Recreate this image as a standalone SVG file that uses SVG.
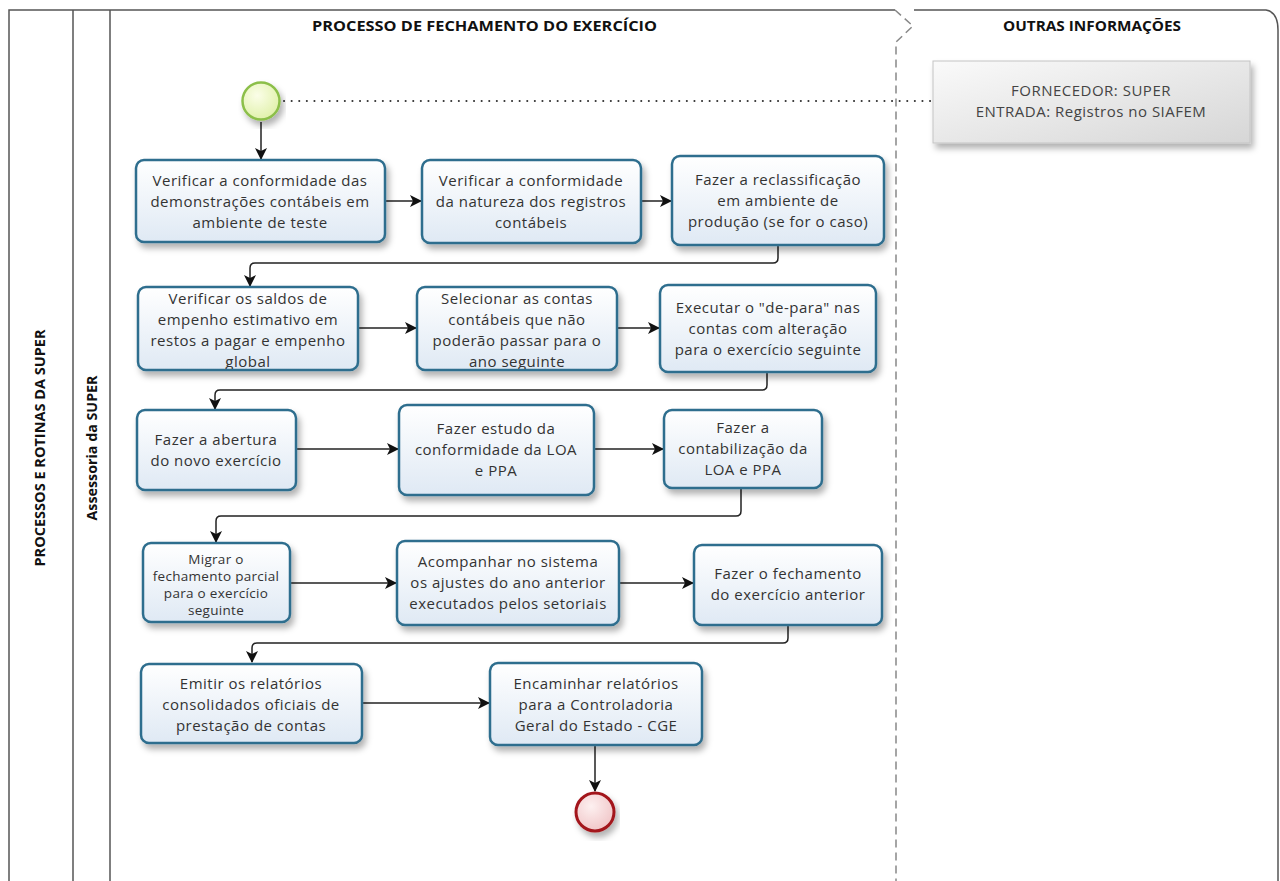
<svg xmlns="http://www.w3.org/2000/svg" width="1280" height="881" viewBox="0 0 1280 881">
<style>
.frame{fill:none;stroke:#555;stroke-width:1.5}
.hdr{font-family:"Open Sans","Liberation Sans",sans-serif;font-weight:bold;font-size:14px;fill:#111}
.task rect{fill:url(#tg);stroke:#2f6e8e;stroke-width:2.5;filter:url(#sh)}
.task text{font-family:"Open Sans","Noto Sans",sans-serif;font-size:15px;letter-spacing:0.5px;fill:#333;text-anchor:middle}
.task text.sm{font-size:13.5px;letter-spacing:0.3px}
.conn path{fill:none;stroke:#222;stroke-width:1.5;marker-end:url(#ah)}
.note text{font-family:"Open Sans","Noto Sans",sans-serif;font-size:15px;letter-spacing:0.5px;fill:#444;text-anchor:middle}
</style>
<defs>
<linearGradient id="tg" x1="0" y1="0" x2="0" y2="1"><stop offset="0" stop-color="#ffffff"/><stop offset="1" stop-color="#dfe9f4"/></linearGradient>
<radialGradient id="sg" cx="0.4" cy="0.35" r="0.7"><stop offset="0" stop-color="#fbfee8"/><stop offset="1" stop-color="#dff0a8"/></radialGradient>
<radialGradient id="eg" cx="0.4" cy="0.35" r="0.7"><stop offset="0" stop-color="#fdf0f0"/><stop offset="1" stop-color="#f0c4c6"/></radialGradient>
<linearGradient id="ng" x1="0" y1="0" x2="1" y2="1"><stop offset="0" stop-color="#fafafa"/><stop offset="1" stop-color="#d6d6d6"/></linearGradient>
<filter id="sh" x="-10%" y="-10%" width="125%" height="135%"><feDropShadow dx="3" dy="5" stdDeviation="3" flood-color="#000" flood-opacity="0.3"/></filter>
<marker id="ah" markerWidth="12" markerHeight="12" viewBox="0 0 12 12" refX="11" refY="6" orient="auto" markerUnits="userSpaceOnUse"><path d="M0,0 L12,6 L0,12 L3,6 Z" fill="#111"/></marker>
<clipPath id="c4"><rect x="139" y="288" width="218" height="81"/></clipPath>
<clipPath id="c5"><rect x="418" y="288" width="198" height="81"/></clipPath>
</defs>

<g id="frame">
<path class="frame" d="M9,881 V10 H895 M914,10 H1266 Q1278,12 1278,30 V881"/>
<line class="frame" x1="73" y1="10" x2="73" y2="881"/>
<line class="frame" x1="110" y1="10" x2="110" y2="881"/>
<path d="M895,10 L913,26 L896,42 V881" fill="none" stroke="#888" stroke-width="1.5" stroke-dasharray="8,5"/>
<text class="hdr" x="312" y="31" textLength="345" lengthAdjust="spacingAndGlyphs">PROCESSO DE FECHAMENTO DO EXERCÍCIO</text>
<text class="hdr" x="1003" y="31" textLength="178" lengthAdjust="spacingAndGlyphs">OUTRAS INFORMAÇÕES</text>
<text class="hdr" transform="translate(45,448) rotate(-90)" text-anchor="middle" textLength="237" lengthAdjust="spacingAndGlyphs">PROCESSOS E ROTINAS DA SUPER</text>
<text class="hdr" transform="translate(97,448) rotate(-90)" text-anchor="middle" textLength="145" lengthAdjust="spacingAndGlyphs">Assessoria da SUPER</text>
</g>

<g id="connectors" class="conn">
<line x1="284" y1="101" x2="933" y2="101" stroke="#333" stroke-width="2" stroke-dasharray="0.1,7.5" stroke-linecap="round"/>
<path d="M261,122 V159"/>
<path d="M385,201 H421"/>
<path d="M641,201 H671"/>
<path d="M778,246 V258 Q778,263 773,263 H255 Q250,263 250,268 V286"/>
<path d="M358,328 H416"/>
<path d="M617,328 H659"/>
<path d="M767,373 V385 Q767,390 762,390 H220 Q215,390 215,395 V409"/>
<path d="M296,449 H398"/>
<path d="M594,449 H663"/>
<path d="M741,489 V511 Q741,516 736,516 H221 Q216,516 216,521 V542"/>
<path d="M290,583 H396"/>
<path d="M619,583 H693"/>
<path d="M788,626 V638 Q788,643 783,643 H257 Q252,643 252,648 V662"/>
<path d="M362,703 H489"/>
<path d="M595,746 V791"/>
</g>

<g id="start"><circle cx="261" cy="101" r="18.5" fill="url(#sg)" stroke="#8cbf4a" stroke-width="2.5" filter="url(#sh)"/></g>
<g id="end"><circle cx="595" cy="812" r="19" fill="url(#eg)" stroke="#a3161c" stroke-width="3" filter="url(#sh)"/></g>

<g id="note" class="note">
<rect x="933" y="61" width="317" height="82" fill="url(#ng)" stroke="#c4c4c4" stroke-width="1" filter="url(#sh)"/>
<text x="1091" y="96">FORNECEDOR: SUPER</text>
<text x="1091" y="117">ENTRADA: Registros no SIAFEM</text>
</g>

<g id="t1" class="task"><rect x="136" y="160" width="249" height="82" rx="8"/>
<text x="260" y="186">Verificar a conformidade das</text><text x="260" y="207">demonstrações contábeis em</text><text x="260" y="228">ambiente de teste</text></g>
<g id="t2" class="task"><rect x="422" y="160" width="219" height="83" rx="8"/>
<text x="531" y="186">Verificar a conformidade</text><text x="531" y="207">da natureza dos registros</text><text x="531" y="228">contábeis</text></g>
<g id="t3" class="task"><rect x="672" y="156" width="212" height="89" rx="8"/>
<text x="778" y="185">Fazer a reclassificação</text><text x="778" y="206">em ambiente de</text><text x="778" y="227">produção (se for o caso)</text></g>

<g id="t4" class="task"><rect x="138" y="287" width="220" height="83" rx="8"/>
<g clip-path="url(#c4)"><text x="248" y="304">Verificar os saldos de</text><text x="248" y="325">empenho estimativo em</text><text x="248" y="346">restos a pagar e empenho</text><text x="248" y="367">global</text></g></g>
<g id="t5" class="task"><rect x="417" y="287" width="200" height="83" rx="8"/>
<g clip-path="url(#c5)"><text x="517" y="304">Selecionar as contas</text><text x="517" y="325">contábeis que não</text><text x="517" y="346">poderão passar para o</text><text x="517" y="367">ano seguinte</text></g></g>
<g id="t6" class="task"><rect x="660" y="285" width="216" height="87" rx="8"/>
<text x="768" y="313">Executar o "de-para" nas</text><text x="768" y="334">contas com alteração</text><text x="768" y="355">para o exercício seguinte</text></g>

<g id="t7" class="task"><rect x="137" y="410" width="159" height="80" rx="8"/>
<text x="216" y="445">Fazer a abertura</text><text x="216" y="466">do novo exercício</text></g>
<g id="t8" class="task"><rect x="399" y="405" width="195" height="90" rx="8"/>
<text x="496" y="434">Fazer estudo da</text><text x="496" y="455">conformidade da LOA</text><text x="496" y="476">e PPA</text></g>
<g id="t9" class="task"><rect x="664" y="410" width="158" height="78" rx="8"/>
<text x="743" y="433">Fazer a</text><text x="743" y="454">contabilização da</text><text x="743" y="475">LOA e PPA</text></g>

<g id="t10" class="task"><rect x="143" y="543" width="147" height="79" rx="8"/>
<text class="sm" x="216" y="564">Migrar o</text><text class="sm" x="216" y="581">fechamento parcial</text><text class="sm" x="216" y="598">para o exercício</text><text class="sm" x="216" y="615">seguinte</text></g>
<g id="t11" class="task"><rect x="397" y="541" width="222" height="84" rx="8"/>
<text x="508" y="567">Acompanhar no sistema</text><text x="508" y="588">os ajustes do ano anterior</text><text x="508" y="609">executados pelos setoriais</text></g>
<g id="t12" class="task"><rect x="694" y="545" width="188" height="80" rx="8"/>
<text x="788" y="579">Fazer o fechamento</text><text x="788" y="600">do exercício anterior</text></g>

<g id="t13" class="task"><rect x="141" y="664" width="221" height="79" rx="8"/>
<text x="251" y="689">Emitir os relatórios</text><text x="251" y="710">consolidados oficiais de</text><text x="251" y="731">prestação de contas</text></g>
<g id="t14" class="task"><rect x="490" y="663" width="212" height="82" rx="8"/>
<text x="596" y="689">Encaminhar relatórios</text><text x="596" y="710">para a Controladoria</text><text x="596" y="731">Geral do Estado - CGE</text></g>
</svg>
